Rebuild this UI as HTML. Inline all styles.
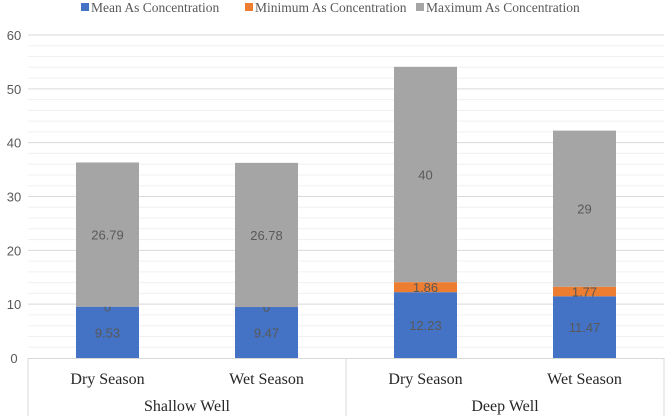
<!DOCTYPE html>
<html><head><meta charset="utf-8"><style>
body{margin:0;background:#fff;width:666px;height:416px;overflow:hidden}
svg{display:block}
.tk{font-family:"Liberation Sans",sans-serif;font-size:13px;fill:#595959}
.dl{font-family:"Liberation Sans",sans-serif;font-size:13px;fill:#595959}
.cat{font-family:"Liberation Serif",serif;font-size:16px;fill:#262626}
.lg{font-family:"Liberation Serif",serif;font-size:13.5px;fill:#595959}
</style></head><body>
<svg id="chart" width="666" height="416"></svg>
<script>
const categories=["Dry Season","Wet Season","Dry Season","Wet Season"];
const groups=["Shallow Well","Deep Well"];
const meanVals=[9.53,9.47,12.23,11.47];
const minVals=[0,0,1.86,1.77];
const maxVals=[26.79,26.78,40,29];
const yTicks=[0,10,20,30,40,50,60];
const seriesNames=["Mean As Concentration","Minimum As Concentration","Maximum As Concentration"];
const colors=["#4472c4","#ed7d31","#a5a5a5"];
const NS="http://www.w3.org/2000/svg";
const svg=document.getElementById('chart');
const L=28,R=664,T=35,B=358,yMax=60;
const y=v=>B-(v/yMax)*(B-T);
const slot=(R-L)/categories.length;
const xc=i=>L+slot*(i+0.5);
function mk(tag,at,txt){const e=document.createElementNS(NS,tag);for(const k in at)e.setAttribute(k,at[k]);if(txt!==undefined)e.textContent=txt;svg.appendChild(e);return e;}
for(let v=0;v<=yMax;v+=2){if(v%10===0)continue;const g=mk('line',{x1:L,x2:R,y1:y(v),y2:y(v),stroke:'#f0f0f0','stroke-width':1});

}
yTicks.forEach(v=>{if(v>0){const g=mk('line',{x1:L,x2:R,y1:y(v),y2:y(v),stroke:'#d9d9d9','stroke-width':1});

}
const t=mk('text',{x:14,y:y(v)+5,'text-anchor':'middle',class:'tk'},v);

});
const bw=63;
categories.forEach((c,i)=>{
 const stacks=[meanVals[i],minVals[i],maxVals[i]];let base=0;
 stacks.forEach((v,s)=>{
  const r=mk('rect',{x:xc(i)-bw/2,y:y(base+v),width:bw,height:y(base)-y(base+v),fill:colors[s]});
  
  
  const t=mk('text',{x:xc(i),y:(y(base)+y(base+v))/2+5,'text-anchor':'middle',class:'dl'},v);
  
  
  base+=v;});
 const t=mk('text',{x:xc(i),y:384,'text-anchor':'middle',class:'cat'},c);
 
 
});
const ax=mk('line',{x1:L,x2:R,y1:B+0.5,y2:B+0.5,stroke:'#d9d9d9'});


[0,2,4].forEach(k=>{const xx=L+slot*k;const l=mk('line',{x1:xx,x2:xx,y1:B,y2:416,stroke:'#d9d9d9'});

});
groups.forEach((g,k)=>{const t=mk('text',{x:L+slot*(2*k+1),y:411,'text-anchor':'middle',class:'cat'},g);

});
const lx=[81,245,416];
seriesNames.forEach((n,s)=>{const r=mk('rect',{x:lx[s],y:3,width:8,height:8,fill:colors[s]});


const t=mk('text',{x:lx[s]+10,y:12,class:'lg'},n);

});
</script>
</body></html>
